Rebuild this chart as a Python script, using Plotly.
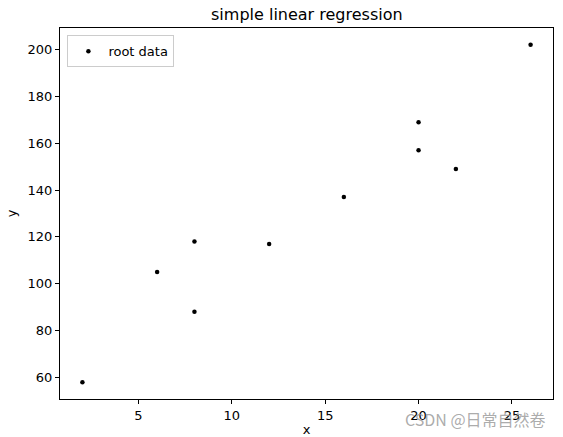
import plotly.graph_objects as go

# data
x_vals = [2, 6, 8, 8, 12, 16, 20, 20, 22, 26]
y_vals = [58, 105, 118, 88, 117, 137, 169, 157, 149, 202]
x_ticks = [5, 10, 15, 20, 25]
y_ticks = [60, 80, 100, 120, 140, 160, 180, 200]

font = "DejaVu Sans"

fig = go.Figure()
fig.add_trace(go.Scatter(
    x=x_vals, y=y_vals,
    mode="markers",
    name="root data",
    marker=dict(color="black", size=4.5),
))

axis_style = dict(
    showline=True, linecolor="black", linewidth=1, mirror=True,
    ticks="outside", ticklen=4, tickcolor="black",
    showgrid=False, zeroline=False, automargin=False,
    tickfont=dict(family=font, size=13, color="black"),
)

fig.update_layout(
    width=563, height=437,
    margin=dict(l=60, r=10, t=28, b=38),
    paper_bgcolor="white", plot_bgcolor="white",
    title=dict(text="simple linear regression", x=0.545, xanchor="center",
               y=0.968, yanchor="middle",
               font=dict(family=font, size=16, color="black")),
    xaxis=dict(range=[0.8, 27.2], tickvals=x_ticks,
               title=dict(text="x", font=dict(family=font, size=13, color="black"), standoff=11),
               **axis_style),
    yaxis=dict(range=[50.8, 209.2], tickvals=y_ticks,
               title=dict(text="y", font=dict(family=font, size=13, color="black"), standoff=8),
               **axis_style),
    showlegend=True,
    legend=dict(x=0.015, y=0.98, xanchor="left", yanchor="top",
                bgcolor="rgba(255,255,255,0.8)", bordercolor="#cccccc", borderwidth=1,
                font=dict(family=font, size=13, color="black")),
)

# watermark
fig.add_annotation(
    text="CSDN @日常自然卷", xref="paper", yref="paper",
    x=0.99, y=-0.055, xanchor="right", yanchor="middle", showarrow=False,
    font=dict(family="Noto Sans CJK SC", size=16, color="rgba(150,150,150,0.8)"),
)

fig.write_html("out.html", config={"displayModeBar": False},
               post_script="document.body.style.margin='0';")
